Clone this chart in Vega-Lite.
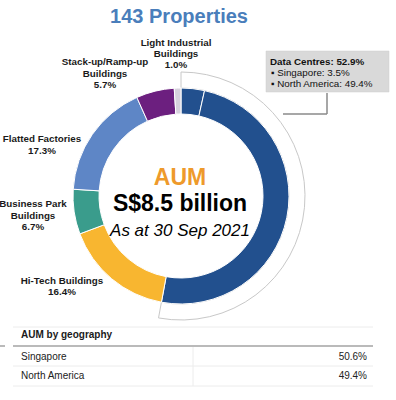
{
  "$schema": "https://vega.github.io/schema/vega-lite/v6.json",
  "width": 362,
  "height": 392,
  "padding": {"left": 0, "top": 0, "right": 34, "bottom": 8},
  "autosize": {"type": "none"},
  "background": "white",
  "config": {"view": {"stroke": null}, "font": "Liberation Sans"},
  "datasets": {
    "segments": [
      {"seg": "Data Centres - Singapore", "pct": 3.5, "ord": 1},
      {"seg": "Data Centres - North America", "pct": 49.4, "ord": 2},
      {"seg": "Hi-Tech Buildings", "pct": 16.4, "ord": 3},
      {"seg": "Business Park Buildings", "pct": 6.7, "ord": 4},
      {"seg": "Flatted Factories", "pct": 17.3, "ord": 5},
      {"seg": "Stack-up/Ramp-up Buildings", "pct": 5.7, "ord": 6},
      {"seg": "Light Industrial Buildings", "pct": 1.0, "ord": 7}
    ],
    "bracket": [{"from": 0, "to": 52.9}],
    "title": [{"t": "143 Properties", "x": 179, "y": 23}],
    "labels": [
      {"t": "Light Industrial", "x": 176, "y": 46},
      {"t": "Buildings", "x": 176, "y": 57},
      {"t": "1.0%", "x": 176, "y": 68},
      {"t": "Stack-up/Ramp-up", "x": 105, "y": 65},
      {"t": "Buildings", "x": 105, "y": 77},
      {"t": "5.7%", "x": 105, "y": 88},
      {"t": "Flatted Factories", "x": 42, "y": 142},
      {"t": "17.3%", "x": 42, "y": 154},
      {"t": "Business Park", "x": 33, "y": 207},
      {"t": "Buildings", "x": 33, "y": 219},
      {"t": "6.7%", "x": 33, "y": 230},
      {"t": "Hi-Tech Buildings", "x": 62, "y": 284},
      {"t": "16.4%", "x": 62, "y": 295}
    ],
    "aum": [{"t": "AUM", "x": 180, "y": 185}],
    "amount": [{"t": "S$8.5 billion", "x": 180, "y": 211}],
    "asat": [{"t": "As at 30 Sep 2021", "x": 180, "y": 236}],
    "box": [{"x": 266, "x2": 389, "y": 51, "y2": 92}],
    "boxTitle": [{"t": "Data Centres: 52.9%", "x": 270, "y": 65}],
    "boxItems": [
      {"t": "▪ Singapore: 3.5%", "x": 271, "y": 76},
      {"t": "▪ North America: 49.4%", "x": 271, "y": 87}
    ],
    "connector": [
      {"x": 327, "x2": 327, "y": 93, "y2": 114},
      {"x": 283, "x2": 327, "y": 114, "y2": 114}
    ],
    "faint": [
      {"x": 13, "x2": 373, "y": 327, "y2": 327},
      {"x": 13, "x2": 373, "y": 366, "y2": 366},
      {"x": 13, "x2": 373, "y": 386, "y2": 386},
      {"x": 193, "x2": 193, "y": 347, "y2": 386}
    ],
    "headerLine": [
      {"x": 13, "x2": 373, "y": 346, "y2": 346},
      {"x": 0, "x2": 5, "y": 346, "y2": 346}
    ],
    "tableHeader": [{"t": "AUM by geography", "x": 21, "y": 338}],
    "rowNames": [
      {"t": "Singapore", "x": 21, "y": 360},
      {"t": "North America", "x": 21, "y": 379}
    ],
    "rowValues": [
      {"t": "50.6%", "x": 367, "y": 360},
      {"t": "49.4%", "x": 367, "y": 379}
    ]
  },
  "layer": [
    {
      "data": {"name": "bracket"},
      "mark": {"type": "arc", "radius": 124, "radius2": 108, "fill": "white", "stroke": "#c8c8c8", "strokeWidth": 1},
      "encoding": {
        "theta": {"field": "from", "type": "quantitative", "scale": {"domain": [0, 100], "range": [0, 6.283185]}},
        "theta2": {"field": "to"}
      }
    },
    {
      "data": {"name": "segments"},
      "mark": {"type": "arc", "radius": 108, "radius2": 82, "stroke": "white", "strokeWidth": 1},
      "encoding": {
        "theta": {"field": "pct", "type": "quantitative", "stack": true, "scale": {"domain": [0, 100], "range": [0, 6.283185]}},
        "order": {"field": "ord", "type": "quantitative"},
        "color": {
          "field": "seg", "type": "nominal", "legend": null,
          "scale": {
            "domain": ["Data Centres - Singapore", "Data Centres - North America", "Hi-Tech Buildings", "Business Park Buildings", "Flatted Factories", "Stack-up/Ramp-up Buildings", "Light Industrial Buildings"],
            "range": ["#22508E", "#22508E", "#F8B630", "#3A9C8C", "#5E86C6", "#6C1F7F", "#D6D1DD"]
          }
        }
      }
    },
    {
      "encoding": {
        "x": {"field": "x", "type": "quantitative", "axis": null, "scale": {"domain": [0, 362], "nice": false, "zero": false}},
        "y": {"field": "y", "type": "quantitative", "axis": null, "scale": {"domain": [0, 392], "nice": false, "zero": false, "reverse": true}}
      },
      "layer": [
        {
          "data": {"name": "title"},
          "mark": {"type": "text", "fontSize": 20, "fontWeight": "bold", "color": "#4A7EBB", "align": "center", "baseline": "alphabetic", "font": "Liberation Sans"},
          "encoding": {"text": {"field": "t"}}
        },
        {
          "data": {"name": "labels"},
          "mark": {"type": "text", "fontSize": 9.8, "fontWeight": "bold", "color": "#1a1a1a", "align": "center", "baseline": "alphabetic", "font": "Liberation Sans"},
          "encoding": {"text": {"field": "t"}}
        },
        {
          "data": {"name": "aum"},
          "mark": {"type": "text", "fontSize": 23, "fontWeight": "bold", "color": "#EE9A2B", "align": "center", "baseline": "alphabetic", "font": "Liberation Sans"},
          "encoding": {"text": {"field": "t"}}
        },
        {
          "data": {"name": "amount"},
          "mark": {"type": "text", "fontSize": 23, "fontWeight": "bold", "color": "#000000", "align": "center", "baseline": "alphabetic", "font": "Liberation Sans"},
          "encoding": {"text": {"field": "t"}}
        },
        {
          "data": {"name": "asat"},
          "mark": {"type": "text", "fontSize": 17, "fontStyle": "italic", "color": "#000000", "align": "center", "baseline": "alphabetic", "font": "Liberation Sans"},
          "encoding": {"text": {"field": "t"}}
        },
        {
          "data": {"name": "box"},
          "mark": {"type": "rect", "fill": "#D9D9D9", "stroke": "#cfcfcf", "strokeWidth": 0.5},
          "encoding": {"x2": {"field": "x2"}, "y2": {"field": "y2"}}
        },
        {
          "data": {"name": "boxTitle"},
          "mark": {"type": "text", "fontSize": 9.8, "fontWeight": "bold", "color": "#111111", "align": "left", "baseline": "alphabetic", "font": "Liberation Sans"},
          "encoding": {"text": {"field": "t"}}
        },
        {
          "data": {"name": "boxItems"},
          "mark": {"type": "text", "fontSize": 9.8, "color": "#111111", "align": "left", "baseline": "alphabetic", "font": "Liberation Sans"},
          "encoding": {"text": {"field": "t"}}
        },
        {
          "data": {"name": "connector"},
          "mark": {"type": "rule", "color": "#8a8a8a", "strokeWidth": 1.5},
          "encoding": {"x2": {"field": "x2"}, "y2": {"field": "y2"}}
        },
        {
          "data": {"name": "faint"},
          "mark": {"type": "rule", "color": "#ececec", "strokeWidth": 1},
          "encoding": {"x2": {"field": "x2"}, "y2": {"field": "y2"}}
        },
        {
          "data": {"name": "headerLine"},
          "mark": {"type": "rule", "color": "#a3a3a3", "strokeWidth": 1.5},
          "encoding": {"x2": {"field": "x2"}, "y2": {"field": "y2"}}
        },
        {
          "data": {"name": "tableHeader"},
          "mark": {"type": "text", "fontSize": 10, "fontWeight": "bold", "color": "#1a1a1a", "align": "left", "baseline": "alphabetic", "font": "Liberation Sans"},
          "encoding": {"text": {"field": "t"}}
        },
        {
          "data": {"name": "rowNames"},
          "mark": {"type": "text", "fontSize": 10, "color": "#222222", "align": "left", "baseline": "alphabetic", "font": "Liberation Sans"},
          "encoding": {"text": {"field": "t"}}
        },
        {
          "data": {"name": "rowValues"},
          "mark": {"type": "text", "fontSize": 10, "color": "#222222", "align": "right", "baseline": "alphabetic", "font": "Liberation Sans"},
          "encoding": {"text": {"field": "t"}}
        }
      ]
    }
  ]
}
